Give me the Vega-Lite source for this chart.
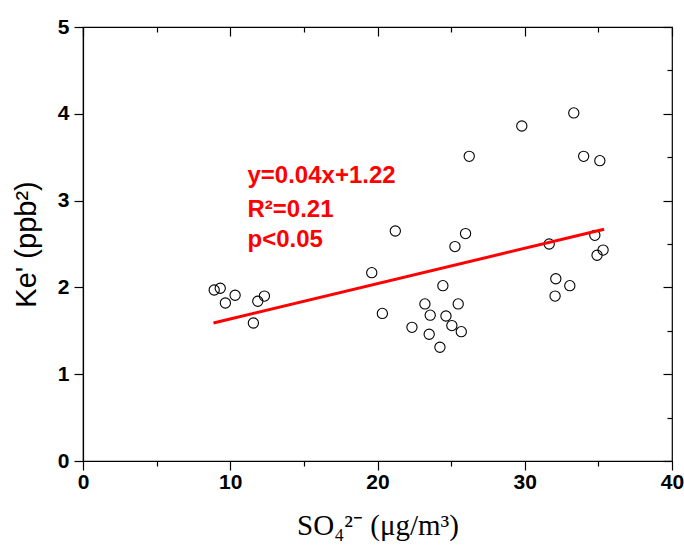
{
  "$schema": "https://vega.github.io/schema/vega-lite/v6.json",
  "autosize": {"type": "none"},
  "padding": {"left": 83, "top": 27, "right": 12, "bottom": 87},
  "width": 589,
  "height": 434,
  "background": "white",
  "config": {
    "view": {"stroke": "black", "strokeWidth": 1.2},
    "axis": {"grid": false, "domainColor": "black", "tickColor": "black", "labelColor": "black", "titleColor": "black", "domainWidth": 1.2, "tickWidth": 1.2, "labelFlush": false}
  },
  "resolve": {"axis": {"x": "independent", "y": "independent"}},
  "layer": [
    {
      "data": {"values": [
        {"so4": 26.23, "ke": 3.51}, {"so4": 34.0, "ke": 3.51}, {"so4": 35.1, "ke": 3.46},
        {"so4": 21.21, "ke": 2.65}, {"so4": 25.98, "ke": 2.62}, {"so4": 25.26, "ke": 2.47},
        {"so4": 31.66, "ke": 2.5}, {"so4": 34.76, "ke": 2.6}, {"so4": 35.32, "ke": 2.43},
        {"so4": 34.91, "ke": 2.37}, {"so4": 19.61, "ke": 2.17}, {"so4": 32.11, "ke": 2.1},
        {"so4": 33.06, "ke": 2.02}, {"so4": 32.06, "ke": 1.9}, {"so4": 24.44, "ke": 2.02},
        {"so4": 8.91, "ke": 1.97}, {"so4": 9.32, "ke": 1.99}, {"so4": 10.33, "ke": 1.91},
        {"so4": 9.67, "ke": 1.82}, {"so4": 12.32, "ke": 1.9}, {"so4": 11.87, "ke": 1.84},
        {"so4": 11.57, "ke": 1.59}, {"so4": 20.33, "ke": 1.7}, {"so4": 23.22, "ke": 1.81},
        {"so4": 25.48, "ke": 1.81}, {"so4": 23.58, "ke": 1.68}, {"so4": 24.65, "ke": 1.67},
        {"so4": 25.05, "ke": 1.56}, {"so4": 22.34, "ke": 1.54}, {"so4": 23.51, "ke": 1.46},
        {"so4": 25.69, "ke": 1.49}, {"so4": 24.24, "ke": 1.31}, {"so4": 33.33, "ke": 4.01},
        {"so4": 29.8, "ke": 3.86}
      ]},
      "mark": {"type": "point", "shape": "circle", "filled": false, "stroke": "black", "strokeWidth": 1.1, "size": 105, "opacity": 1},
      "encoding": {
        "x": {"field": "so4", "type": "quantitative", "scale": {"domain": [0, 40], "nice": false},
          "axis": {"orient": "bottom", "values": [0, 5, 10, 15, 20, 25, 30, 35, 40], "format": "d",
            "labelExpr": "datum.value % 10 === 0 ? datum.label : ''",
            "tickSize": {"condition": {"test": "datum.value % 10 === 0", "value": 9}, "value": 5},
            "labelFont": "Liberation Sans", "labelFontWeight": "bold", "labelFontSize": 21, "labelPadding": 1,
            "title": "SO₄²⁻ (μg/m³)", "titleFont": "Liberation Serif", "titleFontSize": 29, "titleFontWeight": "normal", "titlePadding": 19}},
        "y": {"field": "ke", "type": "quantitative", "scale": {"domain": [0, 5], "nice": false},
          "axis": {"orient": "left", "values": [0, 0.5, 1, 1.5, 2, 2.5, 3, 3.5, 4, 4.5, 5], "format": "d",
            "labelExpr": "datum.value % 1 === 0 ? datum.label : ''",
            "tickSize": {"condition": {"test": "datum.value % 1 === 0", "value": 9}, "value": 5},
            "labelFont": "Liberation Sans", "labelFontWeight": "bold", "labelFontSize": 21, "labelPadding": 5,
            "title": "Ke' (ppb²)", "titleFont": "Liberation Sans", "titleFontSize": 29, "titleFontWeight": "normal", "titlePadding": 16}}
      }
    },
    {
      "data": {"values": [{"so4": 8.86, "ke": 1.59}, {"so4": 35.39, "ke": 2.67}]},
      "mark": {"type": "line", "color": "#ff0000", "strokeWidth": 3},
      "encoding": {
        "x": {"field": "so4", "type": "quantitative",
          "axis": {"orient": "top", "values": [0, 5, 10, 15, 20, 25, 30, 35, 40], "labels": false, "title": null, "domain": false,
            "tickSize": {"condition": {"test": "datum.value % 10 === 0", "value": -9}, "value": -5}}},
        "y": {"field": "ke", "type": "quantitative",
          "axis": {"orient": "right", "values": [0, 0.5, 1, 1.5, 2, 2.5, 3, 3.5, 4, 4.5, 5], "labels": false, "title": null, "domain": false,
            "tickSize": {"condition": {"test": "datum.value % 1 === 0", "value": -9}, "value": -5}}}
      }
    },
    {
      "data": {"values": [
        {"so4": 11.17, "ke": 3.28, "txt": "y=0.04x+1.22"},
        {"so4": 11.17, "ke": 2.89, "txt": "R²=0.21"},
        {"so4": 11.17, "ke": 2.55, "txt": "p<0.05"}
      ]},
      "mark": {"type": "text", "align": "left", "baseline": "middle", "color": "#ff0000", "font": "Liberation Sans", "fontWeight": "bold", "fontSize": 24},
      "encoding": {
        "x": {"field": "so4", "type": "quantitative", "axis": null},
        "y": {"field": "ke", "type": "quantitative", "axis": null},
        "text": {"field": "txt"}
      }
    }
  ]
}
